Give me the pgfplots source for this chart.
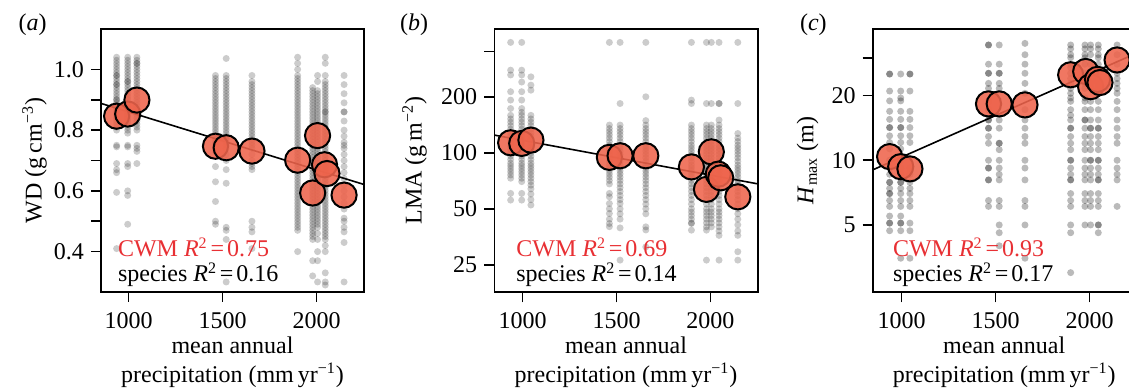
\documentclass[border=0pt]{standalone}
\usepackage{fontspec}
\setmainfont{Liberation Serif}
\usepackage{pgfplots}
\pgfplotsset{compat=1.18}
\definecolor{cwm}{RGB}{238,100,76}
\definecolor{txtred}{RGB}{232,48,52}
\pgfplotsset{
 panel/.style={scale only axis, height=131.5pt, anchor=south west,
   axis line style={line width=0.8pt}, tick style={line width=0.8pt, black},
   tick align=outside, major tick length=5pt, xtick pos=left, ytick pos=left,
   xtick={1000,1500,2000}, xticklabels={1000,1500,2000},
   xticklabel style={yshift=-1.5pt},
   yminorticks=false, xminorticks=false,
   /pgf/number format/assume math mode=true,
   font=\fontsize{12}{14.5}\selectfont},
 sp/.style={only marks, mark=*, mark size=1.75pt, color=black, mark options={draw opacity=0, fill=black, fill opacity=0.2}},
 spc/.style={only marks, mark=*, mark size=1.75pt, color=black, mark options={draw opacity=0, fill=black, fill opacity=0.27}},
 cw/.style={only marks, mark=*, mark size=6.3pt, color=black, mark options={draw=black, line width=1pt, fill=cwm, fill opacity=0.88, draw opacity=1}},
 fit/.style={black, line width=0.8pt, no marks},
}
\begin{document}
\begin{tikzpicture}[font=\fontsize{12}{14.5}\selectfont]
\path[use as bounding box] (0,0) rectangle (564.5pt,194.5pt);
% ---------------- panel a
\begin{axis}[panel, at={(50.5pt,48.5pt)}, width=131.5pt, xmin=853, xmax=2252, ymin=0.267, ymax=1.133,
  ytick={0.4,0.5,0.6,0.7,0.8,0.9,1.0}, yticklabels={0.4,,0.6,,0.8,,1.0}]
\addplot[sp] coordinates {(936,1.04)(936,1.03)(936,1.02)(936,1.01)(936,1.00)(936,0.99)(936,0.98)(936,0.98)(936,0.97)(936,0.96)(936,0.95)(936,0.95)(936,0.94)(936,0.93)(936,0.92)(936,0.91)(936,0.90)(936,0.90)(936,0.89)(936,0.88)(936,0.87)(936,0.86)(936,0.85)(936,0.84)(936,0.83)(936,0.82)(936,0.81)(936,0.80)(936,0.75)(936,0.745)(936,0.69)(936,0.67)(936,0.66)(936,0.595)(936,0.41)};
\addplot[sp] coordinates {(995,1.04)(995,1.03)(995,1.02)(995,1.01)(995,1.00)(995,0.99)(995,0.98)(995,0.97)(995,0.96)(995,0.96)(995,0.95)(995,0.94)(995,0.93)(995,0.92)(995,0.91)(995,0.90)(995,0.89)(995,0.88)(995,0.87)(995,0.86)(995,0.85)(995,0.84)(995,0.83)(995,0.82)(995,0.81)(995,0.80)(995,0.79)(995,0.75)(995,0.745)(995,0.69)(995,0.68)(995,0.60)(995,0.585)(995,0.49)};
\addplot[sp] coordinates {(1044,1.04)(1044,1.03)(1044,1.02)(1044,1.02)(1044,1.01)(1044,1.00)(1044,0.99)(1044,0.98)(1044,0.97)(1044,0.96)(1044,0.95)(1044,0.94)(1044,0.93)(1044,0.92)(1044,0.91)(1044,0.90)(1044,0.89)(1044,0.88)(1044,0.87)(1044,0.86)(1044,0.85)(1044,0.84)(1044,0.83)(1044,0.82)(1044,0.81)(1044,0.80)(1044,0.75)(1044,0.74)(1044,0.73)(1044,0.69)};
\addplot[sp] coordinates {(1462,0.98)(1462,0.97)(1462,0.96)(1462,0.95)(1462,0.94)(1462,0.93)(1462,0.92)(1462,0.91)(1462,0.90)(1462,0.89)(1462,0.88)(1462,0.87)(1462,0.86)(1462,0.85)(1462,0.84)(1462,0.83)(1462,0.82)(1462,0.81)(1462,0.80)(1462,0.79)(1462,0.78)(1462,0.77)(1462,0.76)(1462,0.75)(1462,0.73)(1462,0.68)(1462,0.63)(1462,0.565)(1462,0.50)(1462,0.49)};
\addplot[sp] coordinates {(1519,1.036)(1519,0.98)(1519,0.97)(1519,0.96)(1519,0.95)(1519,0.94)(1519,0.93)(1519,0.92)(1519,0.91)(1519,0.90)(1519,0.89)(1519,0.88)(1519,0.87)(1519,0.86)(1519,0.85)(1519,0.84)(1519,0.83)(1519,0.82)(1519,0.81)(1519,0.80)(1519,0.79)(1519,0.78)(1519,0.77)(1519,0.76)(1519,0.75)(1519,0.74)(1519,0.72)(1519,0.70)(1519,0.67)(1519,0.625)(1519,0.48)(1519,0.47)(1519,0.44)(1519,0.30)};
\addplot[sp] coordinates {(1656,0.98)(1656,0.96)(1656,0.95)(1656,0.94)(1656,0.93)(1656,0.92)(1656,0.91)(1656,0.90)(1656,0.89)(1656,0.88)(1656,0.87)(1656,0.86)(1656,0.85)(1656,0.84)(1656,0.83)(1656,0.82)(1656,0.81)(1656,0.80)(1656,0.79)(1656,0.78)(1656,0.77)(1656,0.76)(1656,0.75)(1656,0.74)(1656,0.72)(1656,0.70)(1656,0.69)(1656,0.68)(1656,0.67)(1656,0.50)(1656,0.48)(1656,0.465)(1656,0.41)};
\addplot[sp] coordinates {(1899,1.04)(1899,1.02)(1899,1.00)(1899,0.98)(1899,0.97)(1899,0.96)(1899,0.95)(1899,0.94)(1899,0.93)(1899,0.92)(1899,0.91)(1899,0.90)(1899,0.89)(1899,0.88)(1899,0.87)(1899,0.86)(1899,0.85)(1899,0.84)(1899,0.83)(1899,0.82)(1899,0.81)(1899,0.80)(1899,0.79)(1899,0.78)(1899,0.77)(1899,0.76)(1899,0.75)(1899,0.74)(1899,0.73)(1899,0.72)(1899,0.71)(1899,0.70)(1899,0.69)(1899,0.68)(1899,0.67)(1899,0.66)(1899,0.65)(1899,0.64)(1899,0.63)(1899,0.62)(1899,0.61)(1899,0.60)(1899,0.59)(1899,0.58)(1899,0.57)(1899,0.56)(1899,0.55)(1899,0.54)(1899,0.53)(1899,0.52)(1899,0.51)(1899,0.50)(1899,0.49)(1899,0.48)(1899,0.47)(1899,0.40)};
\addplot[sp] coordinates {(1979,0.94)(1979,0.93)(1979,0.92)(1979,0.91)(1979,0.90)(1979,0.89)(1979,0.88)(1979,0.87)(1979,0.86)(1979,0.85)(1979,0.84)(1979,0.83)(1979,0.82)(1979,0.81)(1979,0.80)(1979,0.79)(1979,0.78)(1979,0.77)(1979,0.76)(1979,0.75)(1979,0.74)(1979,0.73)(1979,0.72)(1979,0.71)(1979,0.70)(1979,0.69)(1979,0.68)(1979,0.67)(1979,0.66)(1979,0.65)(1979,0.64)(1979,0.63)(1979,0.62)(1979,0.61)(1979,0.60)(1979,0.59)(1979,0.58)(1979,0.57)(1979,0.56)(1979,0.55)(1979,0.54)(1979,0.53)(1979,0.52)(1979,0.51)(1979,0.50)(1979,0.49)(1979,0.48)(1979,0.47)(1979,0.46)(1979,0.45)(1979,0.44)(1979,0.37)(1979,0.32)};
\addplot[sp] coordinates {(2005,0.98)(2005,0.96)(2005,0.93)(2005,0.92)(2005,0.91)(2005,0.90)(2005,0.89)(2005,0.88)(2005,0.87)(2005,0.86)(2005,0.85)(2005,0.84)(2005,0.83)(2005,0.82)(2005,0.81)(2005,0.80)(2005,0.79)(2005,0.78)(2005,0.77)(2005,0.76)(2005,0.75)(2005,0.74)(2005,0.73)(2005,0.72)(2005,0.71)(2005,0.70)(2005,0.69)(2005,0.68)(2005,0.67)(2005,0.66)(2005,0.65)(2005,0.64)(2005,0.63)(2005,0.62)(2005,0.61)(2005,0.60)(2005,0.59)(2005,0.58)(2005,0.57)(2005,0.56)(2005,0.55)(2005,0.54)(2005,0.53)(2005,0.52)(2005,0.51)(2005,0.50)(2005,0.49)(2005,0.48)(2005,0.46)(2005,0.44)(2005,0.40)(2005,0.37)(2005,0.30)};
\addplot[sp] coordinates {(2046,1.04)(2046,1.02)(2046,0.98)(2046,0.96)(2046,0.95)(2046,0.94)(2046,0.93)(2046,0.92)(2046,0.91)(2046,0.90)(2046,0.89)(2046,0.88)(2046,0.87)(2046,0.86)(2046,0.86)(2046,0.85)(2046,0.84)(2046,0.83)(2046,0.82)(2046,0.81)(2046,0.80)(2046,0.79)(2046,0.78)(2046,0.77)(2046,0.76)(2046,0.75)(2046,0.74)(2046,0.73)(2046,0.72)(2046,0.71)(2046,0.70)(2046,0.69)(2046,0.68)(2046,0.67)(2046,0.66)(2046,0.65)(2046,0.64)(2046,0.63)(2046,0.62)(2046,0.61)(2046,0.60)(2046,0.59)(2046,0.58)(2046,0.57)(2046,0.56)(2046,0.55)(2046,0.54)(2046,0.53)(2046,0.52)(2046,0.51)(2046,0.50)(2046,0.49)(2046,0.48)(2046,0.47)(2046,0.46)(2046,0.45)(2046,0.44)(2046,0.42)(2046,0.40)(2046,0.33)(2046,0.30)(2046,0.29)};
\addplot[sp] coordinates {(2146,0.98)(2146,0.95)(2146,0.92)(2146,0.89)(2146,0.86)(2146,0.86)(2146,0.83)(2146,0.80)(2146,0.78)(2146,0.76)(2146,0.75)(2146,0.74)(2146,0.72)(2146,0.70)(2146,0.68)(2146,0.66)(2146,0.64)(2146,0.62)(2146,0.60)(2146,0.58)(2146,0.56)(2146,0.54)(2146,0.51)(2146,0.50)(2146,0.48)(2146,0.465)(2146,0.43)(2146,0.30)};
\addplot[cw] coordinates {(936,0.846)(995,0.853)(1044,0.899)(1462,0.747)(1519,0.742)(1656,0.731)(1899,0.701)(1979,0.593)(2005,0.782)(2042,0.686)(2055,0.657)(2146,0.586)};
\addplot[fit] coordinates {(853,0.888)(2252,0.621)};
\end{axis}
% ---------------- panel b
\begin{axis}[panel, at={(247.15pt,48.35pt)}, width=131.7pt, xmin=849, xmax=2252, ymode=log, ymin=17.8, ymax=461,
  ytick={25,50,100,200,350}, yticklabels={25,50,100,200,}]
\addplot[sp] coordinates {(936,392)(936,278)(936,262)(936,213)(936,192)(936,173)(936,159)(936,152)(936,146)(936,140)(936,134)(936,128)(936,123)(936,118)(936,113)(936,108)(936,104)(936,100)(936,96)(936,92)(936,88)(936,85)(936,82)(936,79)(936,76)(936,73)(936,60.5)(936,55.7)};
\addplot[sp] coordinates {(995,392)(995,278)(995,262)(995,240)(995,213)(995,192)(995,173)(995,165)(995,159)(995,152)(995,146)(995,140)(995,134)(995,128)(995,123)(995,118)(995,113)(995,108)(995,104)(995,100)(995,96)(995,92)(995,88)(995,85)(995,82)(995,79)(995,76)(995,73)(995,70)(995,60.5)(995,55.7)};
\addplot[sp] coordinates {(1044,256)(1044,231)(1044,217)(1044,159)(1044,152)(1044,146)(1044,140)(1044,134)(1044,128)(1044,123)(1044,118)(1044,113)(1044,108)(1044,104)(1044,100)(1044,96)(1044,92)(1044,88)(1044,85)(1044,82)(1044,79)(1044,76)(1044,73)(1044,70)(1044,67)(1044,64)(1044,60)(1044,56)(1044,52.4)};
\addplot[sp] coordinates {(1462,392)(1462,141)(1462,135)(1462,130)(1462,125)(1462,120)(1462,115)(1462,110)(1462,106)(1462,102)(1462,98)(1462,94)(1462,90)(1462,86)(1462,83)(1462,80)(1462,77)(1462,74)(1462,71)(1462,68)(1462,60.5)(1462,58)(1462,53.4)(1462,50)(1462,47.2)(1462,44)(1462,41.7)(1462,40.1)};
\addplot[sp] coordinates {(1519,392)(1519,184)(1519,141)(1519,135)(1519,130)(1519,125)(1519,120)(1519,115)(1519,110)(1519,106)(1519,102)(1519,98)(1519,94)(1519,90)(1519,86)(1519,83)(1519,80)(1519,77)(1519,74)(1519,71)(1519,68)(1519,65)(1519,62)(1519,59)(1519,56)(1519,53.4)(1519,50)(1519,47)(1519,44)(1519,39.5)(1519,26.5)};
\addplot[sp] coordinates {(1656,392)(1656,200)(1656,149)(1656,141)(1656,135)(1656,130)(1656,125)(1656,120)(1656,115)(1656,110)(1656,106)(1656,102)(1656,98)(1656,94)(1656,90)(1656,86)(1656,83)(1656,80)(1656,77)(1656,74)(1656,71)(1656,68)(1656,65)(1656,62)(1656,59)(1656,56)(1656,53)(1656,50)(1656,47)(1656,40)(1656,38.5)(1656,31.2)};
\addplot[sp] coordinates {(1899,392)(1899,192)(1899,184)(1899,141)(1899,135)(1899,130)(1899,125)(1899,120)(1899,115)(1899,110)(1899,106)(1899,102)(1899,98)(1899,94)(1899,90)(1899,86)(1899,83)(1899,80)(1899,77)(1899,74)(1899,71)(1899,68)(1899,65)(1899,62)(1899,59)(1899,56)(1899,53)(1899,50)(1899,48)(1899,46)(1899,44)(1899,42)(1899,41.7)(1899,38.4)};
\addplot[sp] coordinates {(1979,392)(1979,184)(1979,141)(1979,135)(1979,130)(1979,125)(1979,120)(1979,115)(1979,110)(1979,106)(1979,102)(1979,98)(1979,94)(1979,90)(1979,86)(1979,83)(1979,80)(1979,77)(1979,74)(1979,71)(1979,68)(1979,65)(1979,62)(1979,59)(1979,56)(1979,53)(1979,50)(1979,48)(1979,46)(1979,44)(1979,42)(1979,40)(1979,38.4)(1979,26.5)};
\addplot[sp] coordinates {(2005,392)(2005,184)(2005,141)(2005,135)(2005,130)(2005,125)(2005,120)(2005,115)(2005,110)(2005,106)(2005,102)(2005,98)(2005,94)(2005,90)(2005,86)(2005,83)(2005,80)(2005,77)(2005,74)(2005,71)(2005,68)(2005,65)(2005,62)(2005,59)(2005,56)(2005,53)(2005,50)(2005,48)(2005,46)(2005,44)(2005,42)(2005,40)};
\addplot[sp] coordinates {(2046,392)(2046,184)(2046,184)(2046,150)(2046,141)(2046,135)(2046,130)(2046,125)(2046,120)(2046,115)(2046,110)(2046,106)(2046,102)(2046,98)(2046,94)(2046,90)(2046,86)(2046,83)(2046,80)(2046,77)(2046,74)(2046,71)(2046,68)(2046,65)(2046,62)(2046,59)(2046,56)(2046,53)(2046,50)(2046,48)(2046,46)(2046,44)(2046,42)(2046,40)(2046,38)(2046,36)(2046,26.5)};
\addplot[sp] coordinates {(2146,392)(2146,184)(2146,127)(2146,120)(2146,115)(2146,110)(2146,106)(2146,102)(2146,98)(2146,94)(2146,90)(2146,86)(2146,83)(2146,80)(2146,77)(2146,74)(2146,71)(2146,68)(2146,65)(2146,62)(2146,59)(2146,56)(2146,53)(2146,50)(2146,47)(2146,44)(2146,41)(2146,38)(2146,36)(2146,29.4)(2146,26.5)};
\addplot[cw] coordinates {(936,113.2)(995,112.3)(1044,117)(1462,94.5)(1519,96.4)(1656,96.4)(1899,84)(1979,63.6)(2005,101.2)(2042,76.8)(2055,73.4)(2146,58)};
\addplot[fit] coordinates {(849,124.5)(2252,68.1)};
\end{axis}
% ---------------- panel c
\begin{axis}[panel, at={(436.35pt,48.35pt)}, width=131.5pt, xmin=846, xmax=2245, ymode=log, ymin=2.43, ymax=40.7,
  ytick={5,10,20,30}, yticklabels={5,10,20,}]
\addplot[spc] coordinates {(936,25.2)(936,25.2)(936,21.0)(936,18.9)(936,16.9)(936,15.5)(936,14.2)(936,14.2)(936,13.0)(936,12.1)(936,11.3)(936,10.0)(936,9.2)(936,8.6)(936,7.9)(936,7.9)(936,7.4)(936,7.0)(936,7.0)(936,6.5)(936,6.1)(936,5.5)(936,5.1)(936,5.1)(936,4.7)};
\addplot[spc] coordinates {(995,25.2)(995,21.0)(995,19.5)(995,18.9)(995,16.9)(995,15.5)(995,14.2)(995,14.2)(995,13.0)(995,12.1)(995,11.3)(995,10.0)(995,9.2)(995,8.6)(995,7.9)(995,7.9)(995,7.4)(995,7.0)(995,6.5)(995,6.1)(995,5.5)(995,5.1)(995,5.1)(995,4.7)(995,3.5)};
\addplot[spc] coordinates {(1044,25.2)(1044,25.2)(1044,21.0)(1044,16.9)(1044,15.5)(1044,14.2)(1044,13.0)(1044,12.1)(1044,9.2)(1044,8.6)(1044,7.9)(1044,7.4)(1044,7.0)(1044,6.5)(1044,6.1)(1044,5.1)(1044,4.7)(1044,3.5)};
\addplot[spc] coordinates {(1462,34.4)(1462,34.4)(1462,28.0)(1462,25.4)(1462,25.4)(1462,22.8)(1462,21.6)(1462,18.8)(1462,17.2)(1462,15.4)(1462,15.4)(1462,14.1)(1462,14.1)(1462,12.9)(1462,12.0)(1462,10.0)(1462,9.2)(1462,9.2)(1462,8.1)(1462,8.1)(1462,6.5)(1462,6.1)};
\addplot[spc] coordinates {(1519,34.4)(1519,28.0)(1519,25.4)(1519,25.4)(1519,22.8)(1519,21.6)(1519,15.4)(1519,14.1)(1519,12.0)(1519,12.0)(1519,11.2)(1519,10.0)(1519,9.2)(1519,8.6)(1519,8.1)(1519,6.5)(1519,6.1)(1519,5.0)(1519,4.6)(1519,4.0)};
\addplot[spc] coordinates {(1656,35.0)(1656,31.0)(1656,28.0)(1656,25.4)(1656,22.8)(1656,20.5)(1656,17.2)(1656,15.4)(1656,14.1)(1656,12.9)(1656,12.0)(1656,10.0)(1656,9.2)(1656,8.1)(1656,6.5)(1656,6.1)(1656,5.0)(1656,3.5)};
\addplot[spc] coordinates {(1899,34.4)(1899,33)(1899,31)(1899,30)(1899,28)(1899,27)(1899,25.4)(1899,24)(1899,22.8)(1899,21.6)(1899,20.5)(1899,19.5)(1899,18.8)(1899,17.2)(1899,16.2)(1899,15.4)(1899,14.1)(1899,14.1)(1899,12.9)(1899,12.0)(1899,11.2)(1899,10.0)(1899,10.0)(1899,9.2)(1899,8.6)(1899,8.1)(1899,8.1)(1899,7.0)(1899,6.5)(1899,6.1)(1899,5.0)(1899,4.6)(1899,3.0)};
\addplot[spc] coordinates {(1975,34.4)(1975,33)(1975,31)(1975,30)(1975,28)(1975,25.4)(1975,22.8)(1975,21.6)(1975,19.5)(1975,18.8)(1975,17.2)(1975,15.4)(1975,15.4)(1975,14.1)(1975,12.9)(1975,12.0)(1975,11.2)(1975,10.0)(1975,9.2)(1975,8.6)(1975,8.1)(1975,7.0)(1975,6.5)(1975,6.1)(1975,5.0)};
\addplot[spc] coordinates {(2005,34.4)(2005,33)(2005,31)(2005,28)(2005,25.4)(2005,22.8)(2005,21.6)(2005,18.8)(2005,17.2)(2005,15.4)(2005,14.1)(2005,14.1)(2005,12.9)(2005,12.0)(2005,11.2)(2005,10.0)(2005,10.0)(2005,9.2)(2005,8.6)(2005,8.1)(2005,7.0)(2005,6.5)(2005,6.1)(2005,5.0)};
\addplot[spc] coordinates {(2046,34.4)(2046,33)(2046,31)(2046,30)(2046,28)(2046,25.4)(2046,24)(2046,22.8)(2046,21.6)(2046,20.5)(2046,18.8)(2046,17.2)(2046,15.4)(2046,14.1)(2046,14.1)(2046,12.9)(2046,12.0)(2046,11.2)(2046,10.0)(2046,10.0)(2046,9.2)(2046,8.6)(2046,8.1)(2046,8.1)(2046,7.0)(2046,6.5)(2046,6.1)(2046,5.0)(2046,5.0)(2046,4.6)};
\addplot[spc] coordinates {(2146,34.4)(2146,31)(2146,28)(2146,25.4)(2146,24)(2146,22.8)(2146,21.6)(2146,20.5)(2146,18.8)(2146,17.2)(2146,15.4)(2146,14.1)(2146,12.9)(2146,12.0)(2146,10.0)(2146,9.2)(2146,8.6)(2146,8.1)(2146,6.1)};
\addplot[cw] coordinates {(936,10.4)(995,9.34)(1044,9.12)(1462,18.3)(1519,18.3)(1656,18.1)(1899,25.0)(1979,25.9)(2005,22.0)(2042,23.8)(2055,23.0)(2146,29.3)};
\addplot[fit] coordinates {(846,9.02)(2245,31.4)};
\end{axis}
% ---------------- texts
\node[anchor=base west] at (5.8pt,179pt) {(\textit{a})};
\node[anchor=base west] at (196.5pt,179pt) {(\textit{b})};
\node[anchor=base west] at (396.5pt,179pt) {(\textit{c})};
\node[anchor=base west, text=txtred] at (55.5pt,66pt) {CWM \textit{R}\textsuperscript{2}\hspace{0.12em}=\hspace{0.12em}0.75};
\node[anchor=base west] at (55.5pt,53.5pt) {species \textit{R}\textsuperscript{2}\hspace{0.12em}=\hspace{0.12em}0.16};
\node[anchor=base west, text=txtred] at (254.65pt,66pt) {CWM \textit{R}\textsuperscript{2}\hspace{0.12em}=\hspace{0.12em}0.69};
\node[anchor=base west] at (254.65pt,53.5pt) {species \textit{R}\textsuperscript{2}\hspace{0.12em}=\hspace{0.12em}0.14};
\node[anchor=base west, text=txtred] at (443pt,66pt) {CWM \textit{R}\textsuperscript{2}\hspace{0.12em}=\hspace{0.12em}0.93};
\node[anchor=base west] at (443pt,53.5pt) {species \textit{R}\textsuperscript{2}\hspace{0.12em}=\hspace{0.12em}0.17};
\foreach \cx in {116.25pt,313pt,502.1pt}{
 \node[anchor=base] at (\cx,17.5pt) {mean annual};
 \node[anchor=base] at (\cx,3.2pt) {precipitation (mm\,yr\textsuperscript{−1})};
}
\node[anchor=base, rotate=90] at (20.85pt,114.25pt) {WD (g\,cm\textsuperscript{−3})};
\node[anchor=base, rotate=90] at (210.85pt,114.25pt) {LMA (g\,m\textsuperscript{−2})};
\node[anchor=base, rotate=90] at (406.65pt,114.25pt) {\textit{H}\textsubscript{max} (m)};
\end{tikzpicture}
\end{document}
